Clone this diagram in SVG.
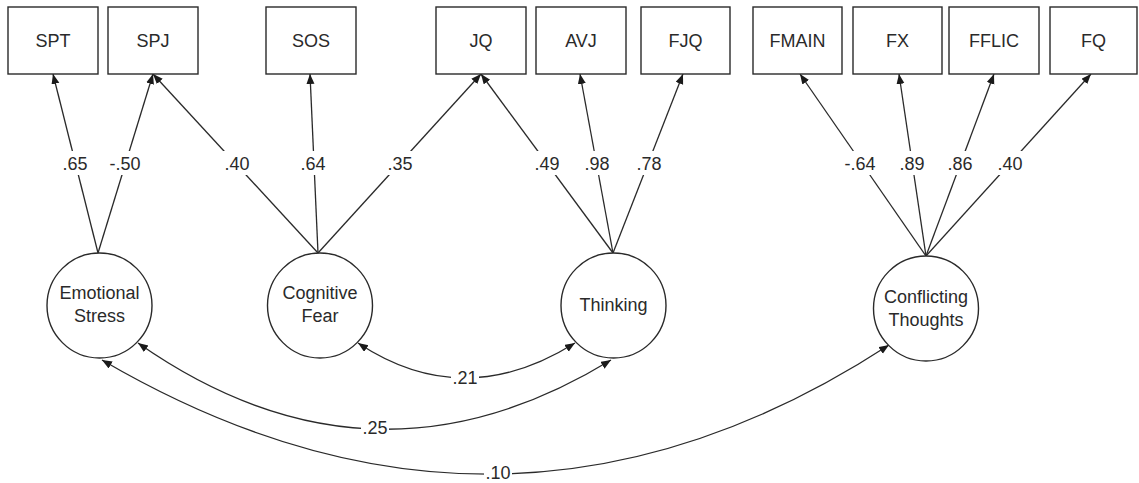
<svg xmlns="http://www.w3.org/2000/svg" width="1139" height="483" viewBox="0 0 1139 483">
<defs>
<style>
.box{fill:#fff;stroke:#2a2a2a;stroke-width:1.4}
.lat{fill:#fff;stroke:#2a2a2a;stroke-width:1.4}
.t{font-family:"Liberation Sans",Arial,sans-serif;font-size:18px;fill:#2a2a2a;text-anchor:middle}
.ln{fill:none;stroke:#2a2a2a;stroke-width:1.3;marker-end:url(#ah)}
.cv{fill:none;stroke:#2a2a2a;stroke-width:1.3;marker-end:url(#ah);marker-start:url(#ah)}
.bg{fill:#fff;stroke:none}
</style>
<marker id="ah" markerUnits="userSpaceOnUse" markerWidth="11" markerHeight="9" refX="10" refY="4" orient="auto-start-reverse" viewBox="0 0 11 9">
<path d="M0,0 L10,4 L0,8 z" fill="#1a1a1a"/>
</marker>
</defs>
<rect width="1139" height="483" fill="#fff"/>

<g id="connectors">
<path class="ln" d="M98,253 L53,74"/>
<path class="ln" d="M98,253 L153,74"/>
<path class="ln" d="M318,253 L153,74"/>
<path class="ln" d="M318,253 L310,74"/>
<path class="ln" d="M318,253 L481,74"/>
<path class="ln" d="M613,253 L481,74"/>
<path class="ln" d="M613,253 L580,74"/>
<path class="ln" d="M613,253 L683,74"/>
<path class="ln" d="M926,256 L800,74"/>
<path class="ln" d="M926,256 L899,74"/>
<path class="ln" d="M926,256 L994,74"/>
<path class="ln" d="M926,256 L1091,74"/>
<path class="cv" d="M358,343 Q463.5,413 575,343"/>
<path class="cv" d="M138,343 Q371.5,506.5 611,360"/>
<path class="cv" d="M102,360 Q504.5,595.5 889,345"/>
<g id="labels">
<rect class="bg" x="61" y="151" width="28" height="24"/><text class="t" x="75" y="169.5">.65</text>
<rect class="bg" x="109" y="151" width="33" height="24"/><text class="t" x="125" y="169.5">-.50</text>
<rect class="bg" x="223" y="151" width="28" height="24"/><text class="t" x="237" y="169.5">.40</text>
<rect class="bg" x="299" y="151" width="28" height="24"/><text class="t" x="313" y="169.5">.64</text>
<rect class="bg" x="386" y="151" width="28" height="24"/><text class="t" x="400" y="169.5">.35</text>
<rect class="bg" x="533" y="151" width="28" height="24"/><text class="t" x="547" y="169.5">.49</text>
<rect class="bg" x="583" y="151" width="28" height="24"/><text class="t" x="597" y="169.5">.98</text>
<rect class="bg" x="635" y="151" width="28" height="24"/><text class="t" x="649" y="169.5">.78</text>
<rect class="bg" x="844" y="151" width="33" height="24"/><text class="t" x="860" y="169.5">-.64</text>
<rect class="bg" x="898" y="151" width="28" height="24"/><text class="t" x="912" y="169.5">.89</text>
<rect class="bg" x="946" y="151" width="28" height="24"/><text class="t" x="960" y="169.5">.86</text>
<rect class="bg" x="996" y="151" width="28" height="24"/><text class="t" x="1010" y="169.5">.40</text>
<rect class="bg" x="451" y="366" width="28" height="24"/><text class="t" x="465" y="384">.21</text>
<rect class="bg" x="361" y="416" width="28" height="24"/><text class="t" x="375" y="434">.25</text>
<rect class="bg" x="484" y="461" width="28" height="22"/><text class="t" x="498" y="479">.10</text>
</g>
</g>

<g id="SPT"><rect class="box" x="8" y="7" width="90" height="67"/><text class="t" x="53" y="47">SPT</text></g>
<g id="SPJ"><rect class="box" x="108" y="7" width="90" height="67"/><text class="t" x="153" y="47">SPJ</text></g>
<g id="SOS"><rect class="box" x="266" y="7" width="90" height="67"/><text class="t" x="311" y="47">SOS</text></g>
<g id="JQ"><rect class="box" x="436" y="7" width="90" height="67"/><text class="t" x="481" y="47">JQ</text></g>
<g id="AVJ"><rect class="box" x="536" y="7" width="90" height="67"/><text class="t" x="581" y="47">AVJ</text></g>
<g id="FJQ"><rect class="box" x="641" y="7" width="89" height="67"/><text class="t" x="685.5" y="47">FJQ</text></g>
<g id="FMAIN"><rect class="box" x="753" y="7" width="89" height="67"/><text class="t" x="797.5" y="47">FMAIN</text></g>
<g id="FX"><rect class="box" x="853" y="7" width="89" height="67"/><text class="t" x="897.5" y="47">FX</text></g>
<g id="FFLIC"><rect class="box" x="949" y="7" width="90" height="67"/><text class="t" x="994" y="47">FFLIC</text></g>
<g id="FQ"><rect class="box" x="1050" y="7" width="87" height="67"/><text class="t" x="1093.5" y="47">FQ</text></g>

<g id="EmotionalStress"><circle class="lat" cx="99.5" cy="305.5" r="52.5"/><text class="t" x="99.5" y="299">Emotional</text><text class="t" x="99.5" y="322">Stress</text></g>
<g id="CognitiveFear"><circle class="lat" cx="320" cy="305.5" r="52.5"/><text class="t" x="320" y="299">Cognitive</text><text class="t" x="320" y="322">Fear</text></g>
<g id="Thinking"><circle class="lat" cx="613.5" cy="305.5" r="52.5"/><text class="t" x="613.5" y="311">Thinking</text></g>
<g id="ConflictingThoughts"><circle class="lat" cx="926" cy="308.5" r="52.5"/><text class="t" x="926" y="303">Conflicting</text><text class="t" x="926" y="326">Thoughts</text></g>
</svg>
